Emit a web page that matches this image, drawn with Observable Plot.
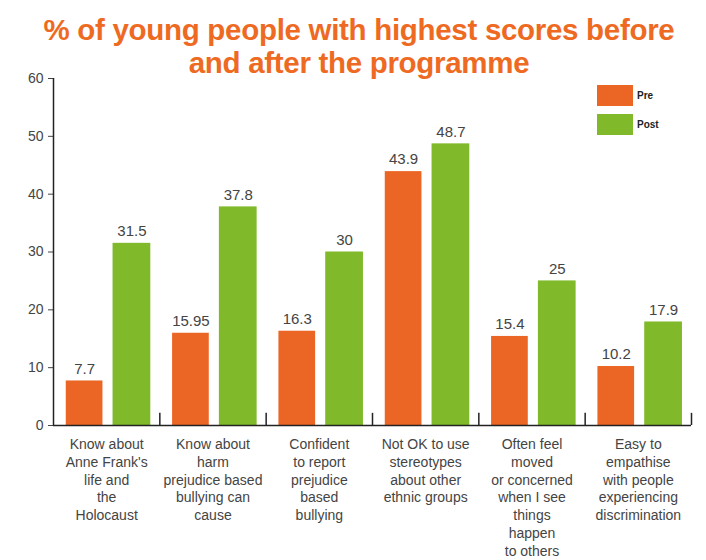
<!DOCTYPE html>
<html>
<head>
<meta charset="utf-8">
<script src="https://cdn.jsdelivr.net/npm/d3@7"></script>
<script src="https://cdn.jsdelivr.net/npm/@observablehq/plot@0.6"></script>
<style>
  body { margin: 0; background: #fff; font-family: "Liberation Sans", Arial, sans-serif; }
  #wrap { position: relative; width: 706px; }
  #title { height: 70px; box-sizing: border-box; padding: 13px 0 0 12px; text-align: center;
    color: #EE6A22; font-weight: bold; font-size: 29.5px; line-height: 33px; letter-spacing: -0.3px; white-space: nowrap; }
  .leg { position: absolute; left: 597px; display: flex; align-items: center; font-size: 10px; font-weight: bold; color: #222; }
  .sw { width: 36px; height: 21px; margin-right: 4px; }
</style>
</head>
<body>
<div id="wrap">
  <div id="title">% of young people with highest scores before<br>and after the programme</div>
  <div id="chart"></div>
</div>
<script>
const categories = [
  "Know about\nAnne Frank's\nlife and\nthe\nHolocaust",
  "Know about\nharm\nprejudice based\nbullying can\ncause",
  "Confident\nto report\nprejudice\nbased\nbullying",
  "Not OK to use\nstereotypes\nabout other\nethnic groups",
  "Often feel\nmoved\nor concerned\nwhen I see\nthings\nhappen\nto others",
  "Easy to\nempathise\nwith people\nexperiencing\ndiscrimination"
];
const preValues = [7.7, 15.95, 16.3, 43.9, 15.4, 10.2];
const postValues = [31.5, 37.8, 30, 48.7, 25, 17.9];
const preLabels = ["7.7", "15.95", "16.3", "43.9", "15.4", "10.2"];
const postLabels = ["31.5", "37.8", "30", "48.7", "25", "17.9"];
const seriesNames = ["Pre", "Post"];
const colors = ["#EB6625", "#80BA2A"];
const yTicks = [0, 10, 20, 30, 40, 50, 60];

const rows = categories.map((c, i) => ({i, cat: c, pre: preValues[i], post: postValues[i], preL: preLabels[i], postL: postLabels[i]}));
const bounds = d3.range(categories.length + 1);

const chart = Plot.plot({
  width: 706,
  height: 490,
  marginTop: 8,
  marginBottom: 135,
  marginLeft: 53,
  marginRight: 15,
  x: {type: "linear", domain: [0, categories.length], axis: null},
  y: {domain: [0, 60], ticks: yTicks, tickSize: 5, tickPadding: 5, label: null},
  style: {fontFamily: "Liberation Sans, Arial, sans-serif", fontSize: "14px", color: "#444"},
  marks: [
    Plot.rectY(rows, {x1: d => d.i + 0.12, x2: d => d.i + 0.465, y: "pre", fill: colors[0]}),
    Plot.rectY(rows, {x1: d => d.i + 0.56, x2: d => d.i + 0.915, y: "post", fill: colors[1]}),
    Plot.text(rows, {x: d => d.i + 0.2925, y: "pre", text: "preL", dy: -12, fontSize: 15, fill: "#444"}),
    Plot.text(rows, {x: d => d.i + 0.7375, y: "post", text: "postL", dy: -12, fontSize: 15, fill: "#444"}),
    Plot.ruleY([0], {x1: 0, x2: categories.length, stroke: "#222", strokeWidth: 1.5}),
    Plot.ruleX([0], {y1: 0, y2: 60, stroke: "#222", strokeWidth: 1.5}),
    Plot.ruleX(bounds.slice(1), {y1: 0, y2: 2.1, stroke: "#222", strokeWidth: 1.5}),
    Plot.text(rows, {x: d => d.i + 0.5, y: 0, text: "cat", lineAnchor: "top", dy: 11, lineHeight: 1.27, fontSize: 14, fill: "#444"})
  ]
});
document.getElementById("chart").appendChild(chart);

const wrap = document.getElementById("wrap");
seriesNames.forEach((name, k) => {
  const d = document.createElement("div");
  d.className = "leg";
  d.style.top = (85 + k * 29) + "px";
  d.innerHTML = `<div class="sw" style="background:${colors[k]}"></div><span>${name}</span>`;
  wrap.appendChild(d);
});
</script>
</body>
</html>
